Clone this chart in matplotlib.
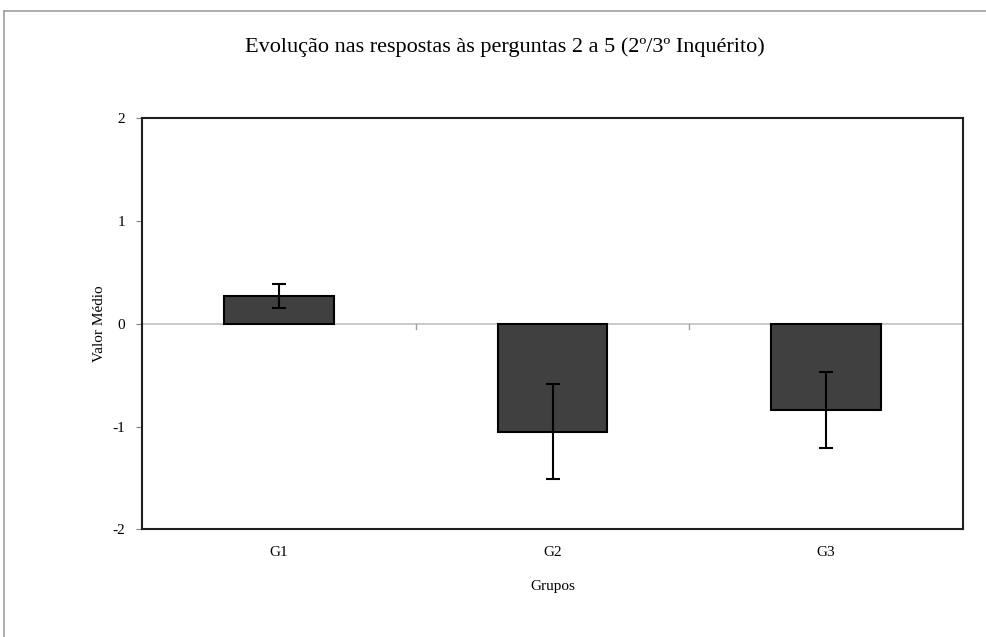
import matplotlib.pyplot as plt
from matplotlib.lines import Line2D

# dados
grupos = ['G1', 'G2', 'G3']
valor_medio = [0.27, -1.05, -0.84]
erro = [0.12, 0.46, 0.37]

plt.rcParams['font.family'] = ['Liberation Serif', 'DejaVu Serif']
plt.rcParams['axes.unicode_minus'] = False

fig = plt.figure(figsize=(9.87, 6.37), dpi=100)
ax = fig.add_axes([0.1439, 0.169, 0.9757 - 0.1439, 0.8143 - 0.169])

x = range(len(grupos))
ax.bar(x, valor_medio, width=0.4, color='#404040', edgecolor='black', linewidth=1.5, zorder=3)
ax.errorbar(x, valor_medio, yerr=erro, fmt='none', ecolor='black', elinewidth=1.5,
            capsize=5, capthick=1.5, zorder=4)

# linha do zero e pequenos traços entre categorias
ax.axhline(0, color='#c0c0c0', linewidth=1.2, zorder=2)
for xb in [0.5, 1.5]:
    ax.plot([xb, xb], [0, -0.05], color='#a0a0a0', linewidth=1, zorder=2)

ax.set_xlim(-0.5, 2.5)
ax.set_ylim(-2, 2)
ax.set_yticks([-2, -1, 0, 1, 2])
ax.set_xticks(list(x))
ax.set_xticklabels(grupos)
ax.tick_params(axis='x', length=0, pad=12, labelsize=11)
ax.tick_params(axis='y', length=4, color='#808080', pad=8, labelsize=11)
for s in ax.spines.values():
    s.set_linewidth(1.5)
    s.set_color('#202020')

ax.set_ylabel('Valor Médio', fontsize=11, labelpad=5)
ax.set_xlabel('Grupos', fontsize=11, labelpad=15)
fig.suptitle('Evolução nas respostas às perguntas 2 a 5 (2º/3º Inquérito)', fontsize=16,
             x=0.512, y=0.942)

# borda da área do gráfico
fig.add_artist(Line2D([4 / 987, 1], [1 - 11 / 637, 1 - 11 / 637], color='#a0a0a0', linewidth=1.2))
fig.add_artist(Line2D([4 / 987, 4 / 987], [0, 1 - 11 / 637], color='#a0a0a0', linewidth=1.2))

fig.savefig('out.png', dpi=100)
